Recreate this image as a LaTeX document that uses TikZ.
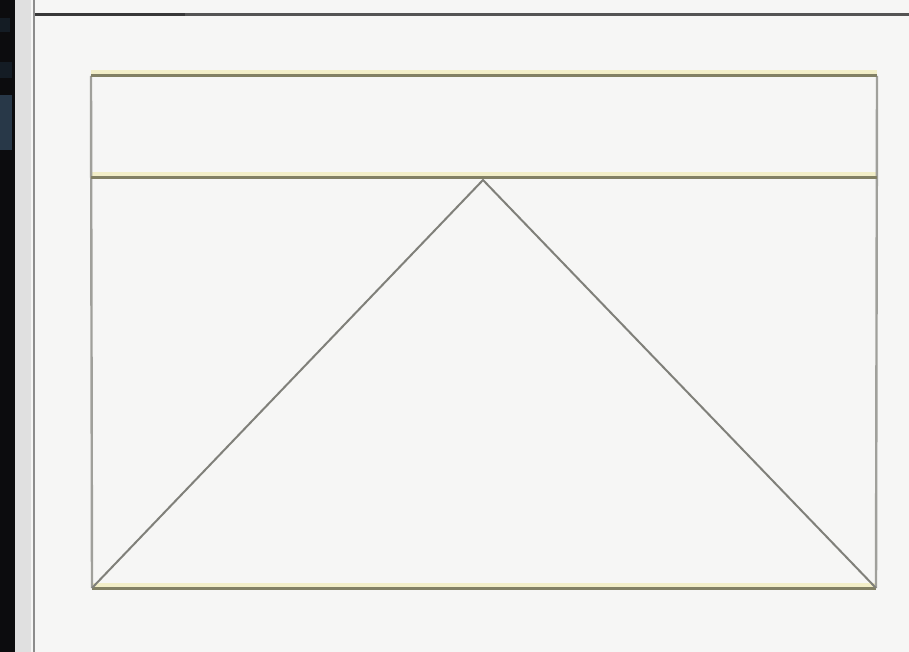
\documentclass[tikz,border=0pt]{standalone}
\definecolor{bg}{RGB}{246,246,245}
\definecolor{strip}{RGB}{12,12,14}
\definecolor{stripblue}{RGB}{50,70,90}
\definecolor{gap}{RGB}{224,224,224}
\definecolor{frameline}{RGB}{140,140,140}
\definecolor{olive}{RGB}{130,128,100}
\definecolor{halo}{RGB}{242,238,200}
\definecolor{tri}{RGB}{128,128,122}
\definecolor{side}{RGB}{160,160,155}
\tikzset{
  bandline/.style={draw=olive, line width=3pt},
  haloline/.style={draw=halo, line width=5pt},
  sideline/.style={draw=side, line width=2.4pt},
  triline/.style={draw=tri, line width=2pt},
}
\begin{document}
\begin{tikzpicture}[x=1pt,y=-1pt]
\useasboundingbox (0,0) rectangle (909,652);
\fill[bg] (0,0) rectangle (909,652);
% left dark strip of the screenshot
\fill[strip] (0,0) rectangle (15,652);
\fill[stripblue!40!black] (0,18) rectangle (10,32);
\fill[stripblue!40!black] (0,62) rectangle (12,78);
\fill[stripblue!80!black] (0,95) rectangle (12,150);
\fill[gap] (15,0) rectangle (31,652);
% window frame
\draw[frameline, line width=2.4pt] (34,0) -- (34,652);
\draw[frameline!60!black, line width=3pt] (35,15) -- (909,15);
\draw[frameline!40!black, line width=3pt] (35,15) -- (185,15);
% rectangle corners
\coordinate (tl) at (91,76);
\coordinate (tr) at (877,76);
\coordinate (ml) at (91,178);
\coordinate (mr) at (877,178);
\coordinate (bl) at (92,588);
\coordinate (br) at (876,588);
\coordinate (apex) at (483,180);
% yellowish halos
\draw[haloline] ([yshift=3pt]tl) -- ([yshift=3pt]tr);
\draw[haloline] ([yshift=3pt]ml) -- ([yshift=3pt]mr);
\draw[haloline] ([yshift=3pt]bl) -- ([yshift=3pt]br);
% sides
\draw[sideline] (tl) -- (bl);
\draw[sideline] (tr) -- (br);
% band lines
\draw[bandline] (tl) -- (tr);
\draw[bandline] (ml) -- (mr);
\draw[bandline] (bl) -- (br);
% triangle
\draw[triline] (bl) -- (apex) -- (br);
\end{tikzpicture}
\end{document}
